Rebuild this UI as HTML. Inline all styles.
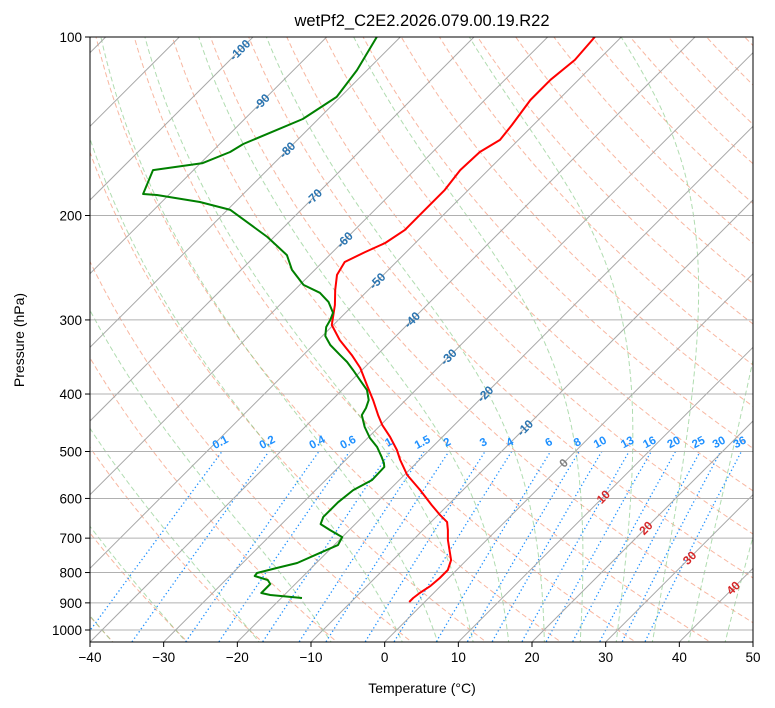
<!DOCTYPE html>
<html><head><meta charset="utf-8"><style>
body{margin:0;background:#fff;}
svg{display:block;font-family:"Liberation Sans","DejaVu Sans",sans-serif;}
</style></head><body>
<svg id="chart" width="775" height="708" viewBox="0 0 775 708" xmlns="http://www.w3.org/2000/svg">
<defs><clipPath id="clip"><rect x="90" y="37" width="663" height="605"/></clipPath></defs>
<rect x="0" y="0" width="775" height="708" fill="#fff"/>
<text x="422" y="26" text-anchor="middle" font-size="16.5">wetPf2_C2E2.2026.079.00.19.R22</text>
<g id="bg" clip-path="url(#clip)"></g>
<g id="series" clip-path="url(#clip)"></g>
<g id="labels"></g>
<rect x="90" y="37" width="663" height="605" fill="none" stroke="#000" stroke-width="1"/>
<g id="axes"></g>
<text x="422" y="693" text-anchor="middle" font-size="14">Temperature (°C)</text>
<text transform="translate(24,340) rotate(-90)" text-anchor="middle" font-size="14">Pressure (hPa)</text>
</svg>
<script>
// ---- data ----
const tempPressure=[100,109.3,118.1,127.7,140.7,149.1,156.3,167.7,181.1,195.7,211.5,222.5,230.5,239.6,251.9,267.1,283.1,306,324.3,343.9,361.6,386.2,409.6,434.1,451,472.5,497.1,516.8,547.9,580.8,615.8,640.2,657.8,678.5,705.2,747.5,762.2,792.3,817.3,842.6,866.1,883.1,897.1];
const tempValues=[-53.6,-53.2,-53.8,-53.8,-52.9,-52.5,-53.6,-53.8,-53.2,-53.2,-53.2,-54.1,-55.6,-57.0,-56.3,-54.5,-52.5,-50.2,-47.1,-43.4,-40.5,-37.3,-34.4,-31.7,-29.8,-27.1,-24.4,-22.6,-19.6,-15.8,-12.2,-9.7,-7.8,-6.6,-5.25,-2.9,-2.1,-1.2,-1.2,-1.4,-1.9,-2.1,-2.1];
const dewPressure=[100,113.7,126.2,137.5,151.5,156.3,163.2,167.7,184.0,184.7,189.8,195.7,217.4,233.2,247.0,261.8,270.0,279.7,291.8,300,308.3,319.3,330.7,343.9,353.3,364.5,378.9,393.9,409.6,422.3,434.1,454.6,474.4,491.3,511.0,522.9,531.1,558.5,580.8,609.1,645.1,662.8,678.5,697.2,719.2,741.9,770.9,786.0,801.5,810.8,823.5,836.4,866.1,873.0,883.1];
const dewValues=[-83.2,-81.4,-80.5,-82.1,-86.8,-87.5,-89.7,-95.5,-93.6,-91.6,-84.8,-79.6,-70.9,-65.8,-63.1,-59.5,-56.2,-53.8,-51.7,-51.1,-50.7,-49.6,-47.7,-45.0,-43.1,-41.2,-38.9,-36.6,-35.0,-34.3,-33.9,-31.9,-29.7,-27.5,-25.5,-24.4,-23.8,-23.7,-24.9,-25.3,-25.3,-24.7,-22.6,-20.0,-19.5,-20.9,-22.6,-24.7,-26.7,-26.6,-24.3,-23.4,-23.4,-21.9,-17.2];
const xTicks=[-40,-30,-20,-10,0,10,20,30,40,50];
const pTicks=[100,200,300,400,500,600,700,800,900,1000];
const isoLabelTemps=[-100,-90,-80,-70,-60,-50,-40,-30,-20,-10,0,10,20,30,40];
const isoLabelPressures=[105.2,128.7,155.1,186.1,219.9,257.9,300,346.5,400,456.3,522.9,596.6,673,756,849.5];
const mixRatios=[0.1,0.2,0.4,0.6,1,1.5,2,3,4,6,8,10,13,16,20,25,30,36];
const mixLabels=["0.1","0.2","0.4","0.6","1","1.5","2","3","4","6","8","10","13","16","20","25","30","36"];
const dryT0=[-40,-30,-20,-10,0,10,20,30,40,50,60,70,80,90,100,110,120,130,140,150,160,170,180,190,200];
const moistT0=[-50,-40,-30,-20,-10,0,5,10,15,20,25,30,35,40,45];

// ---- scales ----
const X0=90,XR=753,YT=37,YB=642,PPX=(XR-X0)/90;
function yP(p){return 630+593*Math.log10(p/1000);}
function xT(t,p){return X0+(t+40)*PPX+(YB-yP(p));}
const NS="http://www.w3.org/2000/svg";
function mk(tag,attrs,parent){const e=document.createElementNS(NS,tag);for(const k in attrs)e.setAttribute(k,attrs[k]);parent.appendChild(e);return e;}
const bg=document.getElementById('bg'),ser=document.getElementById('series'),lab=document.getElementById('labels'),ax=document.getElementById('axes');
function poly(ps,ts){return ps.map((p,i)=>xT(ts[i],p).toFixed(1)+','+yP(p).toFixed(1)).join(' ');}
const pFine=[];for(let p=1060;p>=95;p-=5)pFine.push(p);

// dry adiabats
dryT0.forEach(t0=>{const ts=pFine.map(p=>(t0+273.15)*Math.pow(p/1000,0.2857)-273.15);
const e=mk('polyline',{points:poly(pFine,ts),fill:'none',stroke:'#f5906e','stroke-opacity':'0.65','stroke-width':'1','stroke-dasharray':'5,3'},bg);
});
// moist adiabats
function es(tc){return 6.112*Math.exp(17.67*tc/(tc+243.5));}
function lapse(p,T){const tc=T-273.15,e=es(tc),rs=0.622*e/(p-e);const Rd=287,Lv=2.501e6,Cp=1005;
return (Rd*T+Lv*rs)/(p*(Cp+Lv*Lv*rs*0.622/(Rd*T*T)));}
moistT0.forEach(t0=>{const ps=[],ts=[];let T=t0+273.15;
const down=[];let Td=T;for(let q=1000;q<1060;q+=5){Td+=lapse(q,Td)*5;down.push([q+5,Td-273.15]);}
down.reverse().forEach(d=>{ps.push(d[0]);ts.push(d[1]);});
ps.push(1000);ts.push(t0);
for(let q=1000;q>95;q-=5){T-=lapse(q,T)*5;ps.push(q-5);ts.push(T-273.15);}
const e=mk('polyline',{points:poly(ps,ts),fill:'none',stroke:'#7cc47c','stroke-opacity':'0.6','stroke-width':'1','stroke-dasharray':'5,3'},bg);
});
// mixing ratio lines
function tdFromW(w,p){const ww=w/1000,e=ww*p/(0.622+ww),l=Math.log(e/6.112);return 243.5*l/(17.67-l);}
mixRatios.forEach((w,i)=>{const ps=[];for(let p=1060;p>=500;p-=10)ps.push(p);ps.push(500);
const ts=ps.map(p=>tdFromW(w,p));
const e=mk('polyline',{points:poly(ps,ts),fill:'none',stroke:'#1e90ff','stroke-width':'1.3','stroke-dasharray':'1.3,2.6'},bg);

const lx=xT(tdFromW(w,500),500),ly=yP(500)-6;
const t=mk('text',{x:lx,y:ly,'text-anchor':'middle','font-size':'11.5','font-weight':'bold',fill:'#1e90ff',transform:`rotate(-28 ${lx} ${ly})`},lab);
t.textContent=mixLabels[i];
});
// isotherms
for(let t=-160;t<=50;t+=10){const e=mk('line',{x1:xT(t,1060),y1:yP(1060),x2:xT(t,95),y2:yP(95),stroke:'#a8a8a8','stroke-width':'1'},bg);
}
// pressure grid
pTicks.forEach(p=>{const e=mk('line',{x1:X0,y1:yP(p),x2:XR,y2:yP(p),stroke:'#b0b0b0','stroke-width':'1'},bg);
});
// isotherm labels
isoLabelTemps.forEach((t,i)=>{const p=isoLabelPressures[i],lx=xT(t,p),ly=yP(p);
const col=t<0?'#2a74b0':(t===0?'#808080':'#d62728');
const e=mk('text',{x:lx,y:ly+4,'text-anchor':'middle','font-size':'12','font-weight':'bold',fill:col,transform:`rotate(-45 ${lx} ${ly})`},lab);
e.textContent=String(t);
});
// profiles
const tl=mk('polyline',{points:poly(tempPressure,tempValues),fill:'none',stroke:'#ff0000','stroke-width':'2','stroke-linejoin':'round'},ser);

const dl=mk('polyline',{points:poly(dewPressure,dewValues),fill:'none',stroke:'#008000','stroke-width':'2','stroke-linejoin':'round'},ser);

// axes ticks
xTicks.forEach(t=>{const x=X0+(t+40)*PPX;
const k=mk('line',{x1:x,y1:YB,x2:x,y2:YB+5,stroke:'#000'},ax);
const e=mk('text',{x:x,y:YB+20,'text-anchor':'middle','font-size':'13.5'},ax);e.textContent=(t<0?'\u2212'+(-t):String(t));
});
pTicks.forEach(p=>{const y=yP(p);
const k=mk('line',{x1:X0-5,y1:y,x2:X0,y2:y,stroke:'#000'},ax);
const e=mk('text',{x:X0-8,y:y+5,'text-anchor':'end','font-size':'13.5'},ax);e.textContent=String(p);
});
</script>
</body></html>
